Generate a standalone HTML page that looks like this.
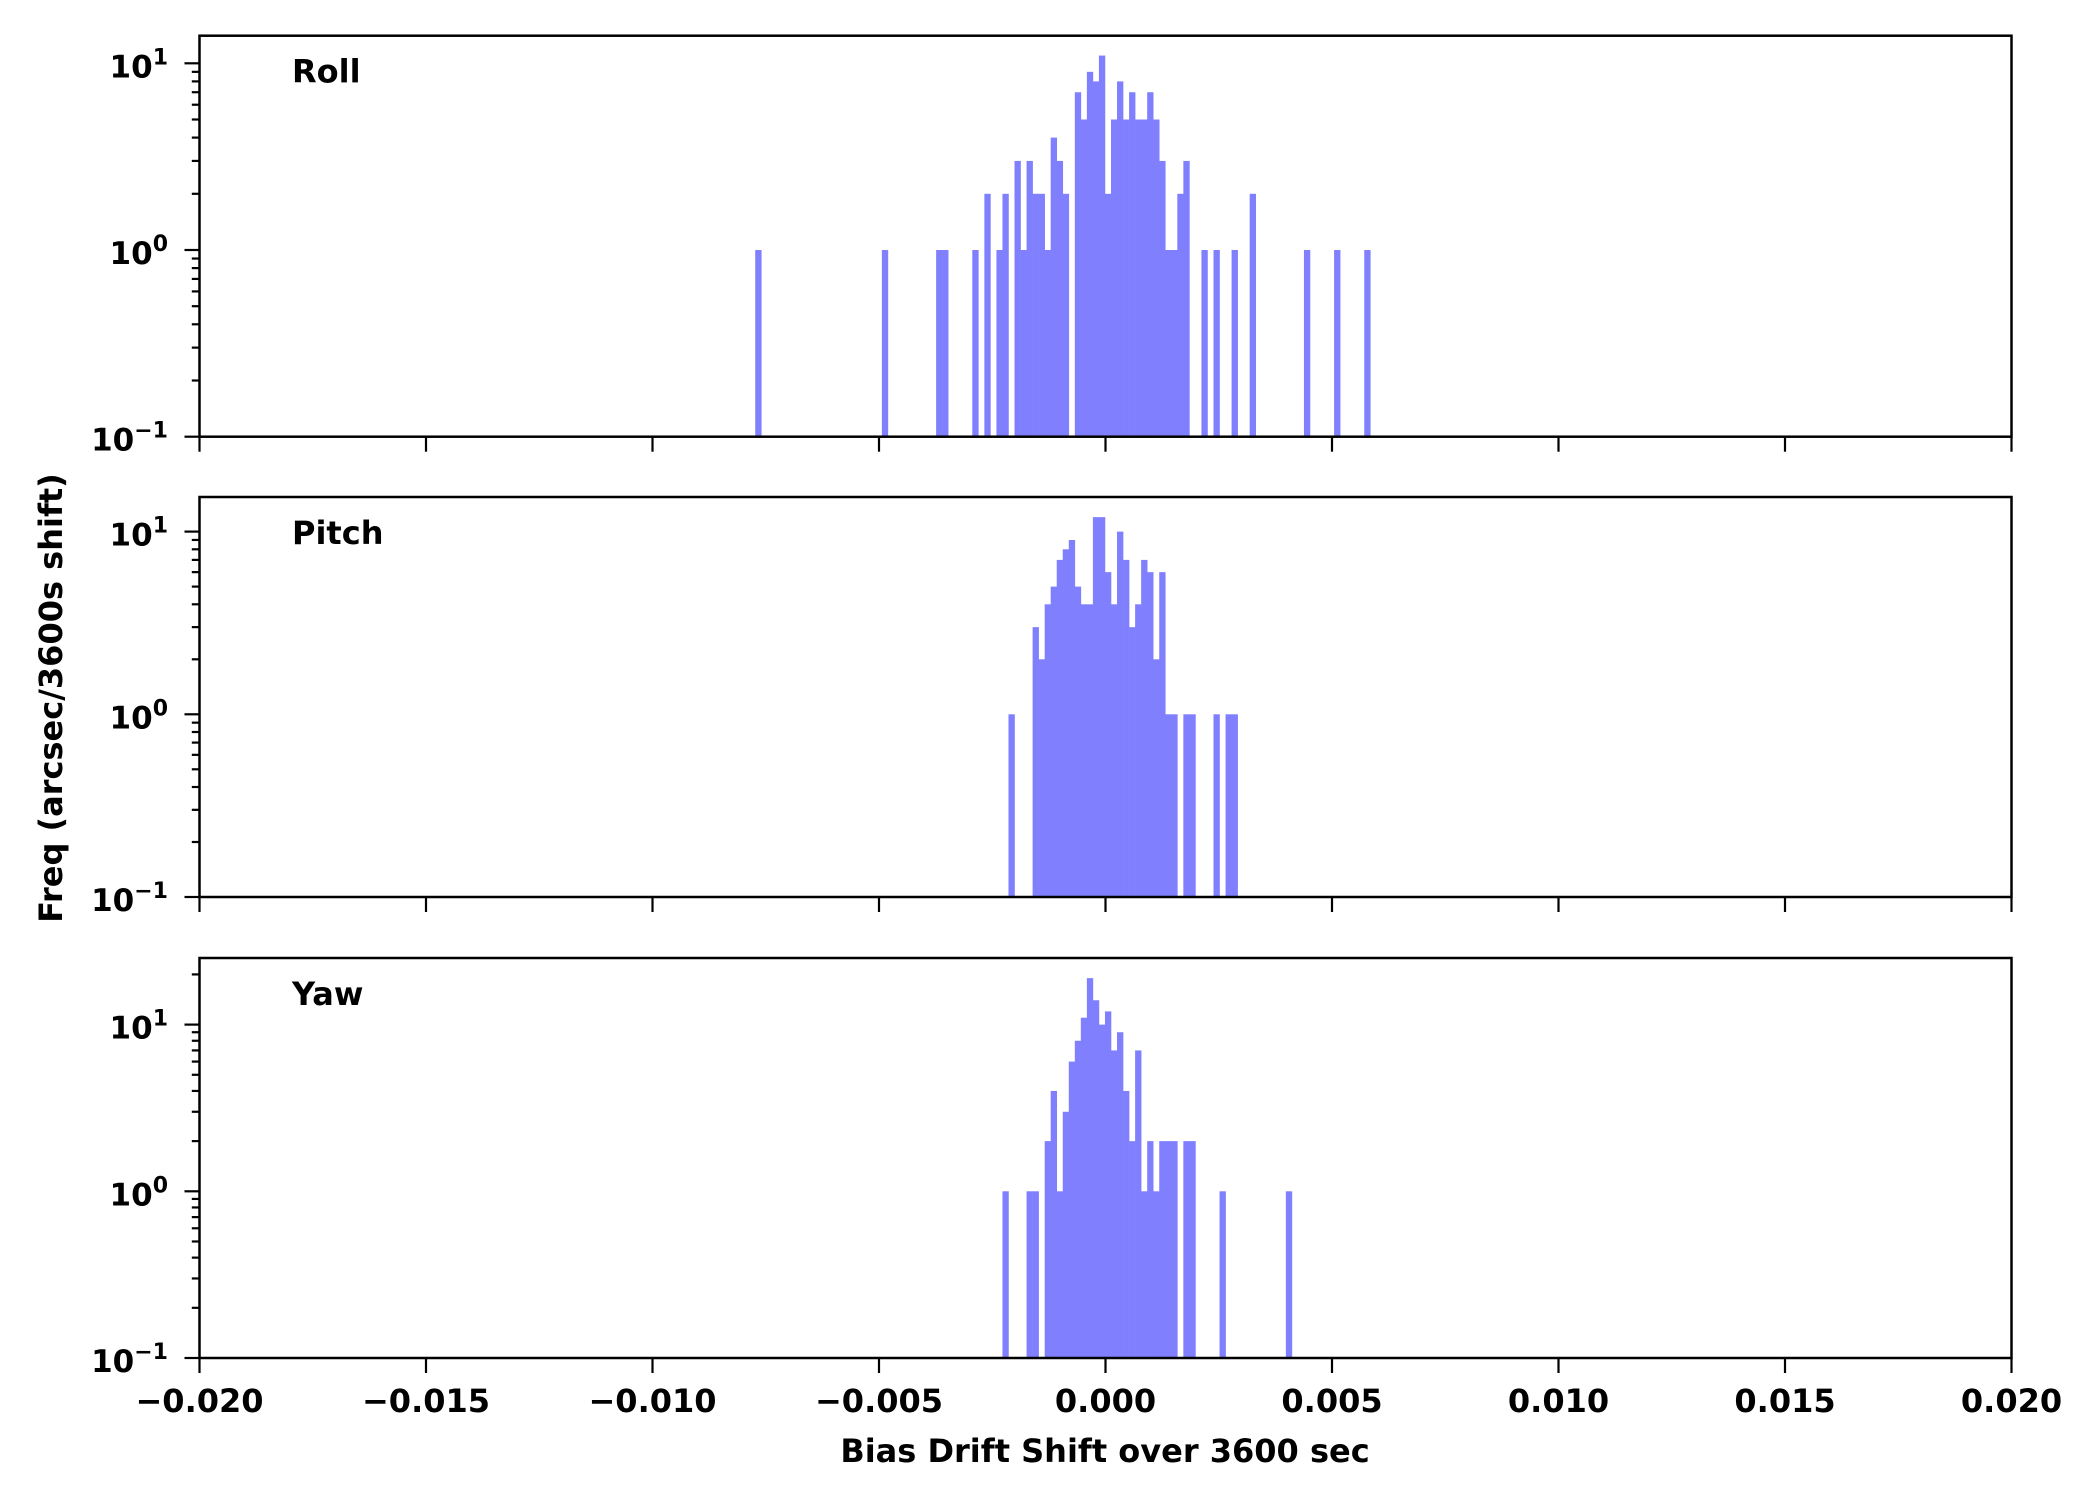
<!DOCTYPE html>
<html><head><meta charset="utf-8"><style>
html,body{margin:0;padding:0;background:#fff;}
svg{display:block;}
text{font-family:"DejaVu Sans","Liberation Sans",sans-serif;font-weight:bold;fill:#000;}
</style></head><body>
<svg id="s" width="2100" height="1500" viewBox="0 0 2100 1500" xmlns="http://www.w3.org/2000/svg">
<rect width="2100" height="1500" fill="#fff"/>
<g id="g"></g>
<text x="1105" y="1462" font-size="32" text-anchor="middle">Bias Drift Shift over 3600 sec</text>
<text transform="translate(62,698) rotate(-90)" font-size="32" text-anchor="middle">Freq (arcsec/3600s shift)</text>
</svg>
<script>
var NS="http://www.w3.org/2000/svg",g=document.getElementById('g');
function el(t,a,txt){var e=document.createElementNS(NS,t);for(var k in a)e.setAttribute(k,a[k]);if(txt!=null)e.textContent=txt;g.appendChild(e);return e;}
var L=199.5,R=2011.5,X0=972.3,BW=6.03;
var panels=[
 {top:35.7,bot:436.7,dec:186.7,name:"Roll",off:0,
  d:{"-36":1,"-15":1,"-6":1,"-5":1,0:1,2:2,4:1,5:2,7:3,8:1,9:3,10:2,11:2,12:1,13:4,14:3,15:2,17:7,18:5,19:9,20:8,21:11,22:2,23:5,24:8,25:5,26:7,27:5,28:5,29:7,30:5,31:3,32:1,33:1,34:2,35:3,38:1,40:1,43:1,46:2,55:1,60:1,65:1}},
 {top:497,bot:897,dec:182.7,name:"Pitch",off:6,
  d:{0:1,4:3,5:2,6:4,7:5,8:7,9:8,10:9,11:5,12:4,13:4,14:12,15:12,16:6,17:4,18:10,19:7,20:3,21:4,22:7,23:6,24:2,25:6,26:1,27:1,29:1,30:1,34:1,36:1,37:1}},
 {top:958,bot:1358,dec:166.7,name:"Yaw",off:5,
  d:{0:1,4:1,5:1,7:2,8:4,9:1,10:3,11:6,12:8,13:11,14:19,15:14,16:10,17:12,18:7,19:9,20:4,21:2,22:7,23:1,24:2,25:1,26:2,27:2,28:2,30:2,31:2,36:1,47:1}}
];
panels.forEach(function(p,pi){
 function Y(v){return p.bot-(Math.log10(v)+1)*p.dec;}
 for(var k in p.d){var i=+k+p.off,x=X0+i*BW,y=Y(p.d[k]);
  el('rect',{x:x.toFixed(2),y:y.toFixed(2),width:(BW+0.3).toFixed(2),height:(p.bot-y).toFixed(2),fill:'#8080ff'});}
 for(var e=-1;e<=1;e++)for(var m=1;m<=9;m++){var v=m*Math.pow(10,e),y=Y(v);
  if(y<p.top-0.5||y>p.bot+0.5)continue;
  var len=(m==1)?15:7.7;
  el('line',{x1:L-len,x2:L,y1:y,y2:y,stroke:'#000','stroke-width':2.2});
  if(m==1){var t=el('text',{x:168,y:(y+14),'font-size':31,'text-anchor':'end'});
   var a=document.createElementNS(NS,'tspan');a.textContent='10';t.appendChild(a);
   var b=document.createElementNS(NS,'tspan');b.setAttribute('font-size','22');b.setAttribute('dy','-13');b.textContent=(e==-1?'\u22121':String(e));t.appendChild(b);}
 }
 for(var j=0;j<=8;j++){var x=L+(R-L)*j/8;
  el('line',{x1:x,x2:x,y1:p.bot,y2:p.bot+15,stroke:'#000','stroke-width':2.2});
  if(pi==2){var val=(-0.02+0.005*j);var s=Math.abs(val).toFixed(3);if(val<-1e-9)s='\u2212'+s;
   el('text',{x:x,y:1412,'font-size':32,'text-anchor':'middle'},s);}
 }
 el('rect',{x:L,y:p.top,width:R-L,height:p.bot-p.top,fill:'none',stroke:'#000','stroke-width':2.5});
 el('text',{x:292,y:p.top+47,'font-size':32},p.name);
});
</script>
</body></html>
